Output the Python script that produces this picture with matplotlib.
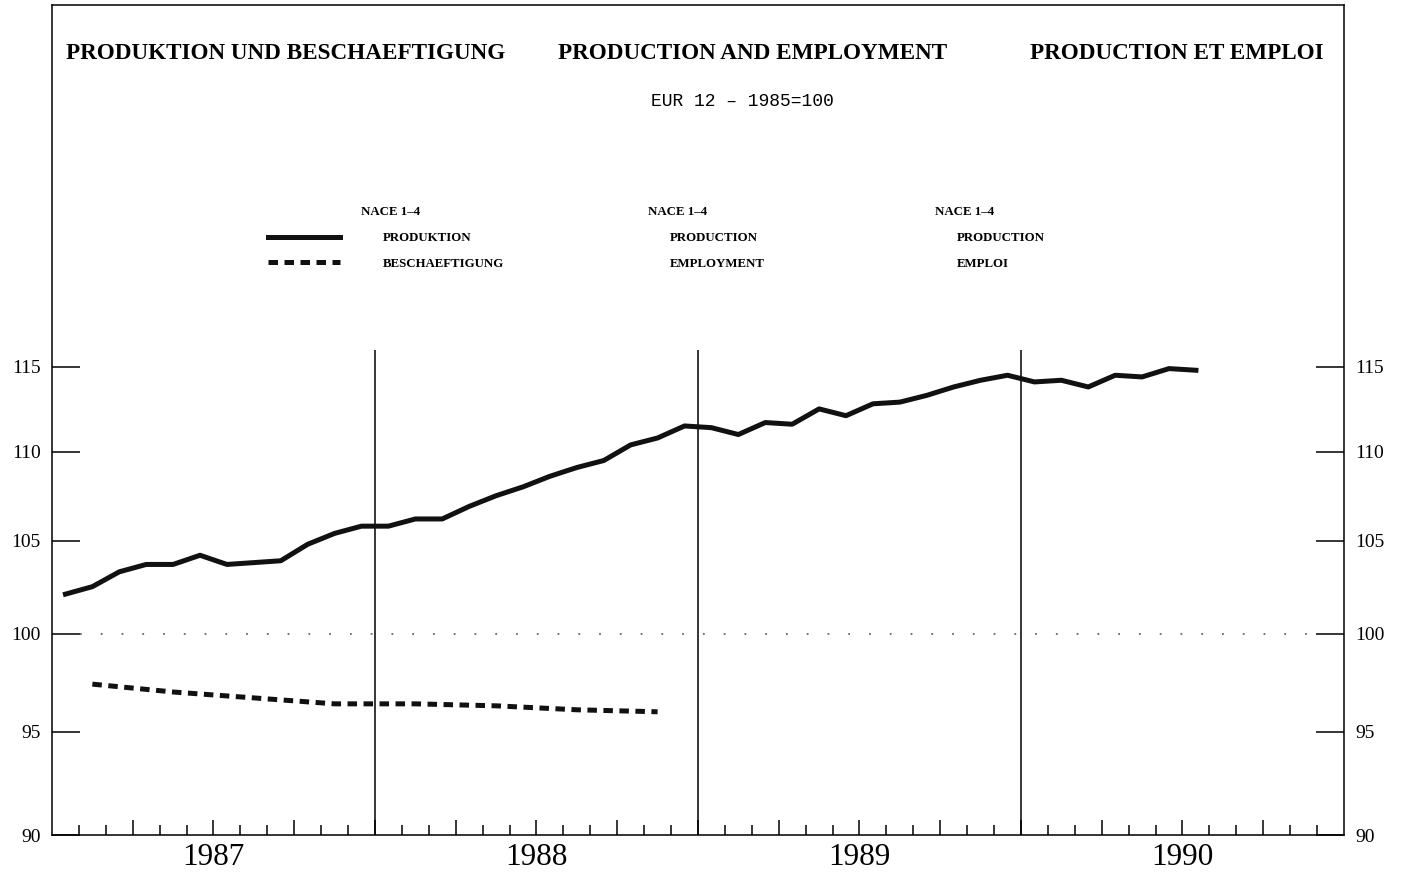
import matplotlib
matplotlib.use('Agg')
import matplotlib.pyplot as plt
from matplotlib.ticker import FixedLocator, NullLocator
import numpy as np

plt.rcParams['font.family'] = ['Liberation Serif', 'DejaVu Serif']

# EUR 12, index 1985=100
years = [1987, 1988, 1989, 1990]

# monthly, Jan 1987 - Jul 1990
production = [102.1, 102.5, 103.3, 103.7, 103.7, 104.2, 103.7, 103.8, 103.9, 104.8, 105.4, 105.8,
              105.8, 106.2, 106.2, 106.9, 107.5, 108.0, 108.6, 109.1, 109.5, 110.4, 110.8, 111.5,
              111.4, 111.0, 111.7, 111.6, 112.5, 112.1, 112.8, 112.9, 113.3, 113.8, 114.2, 114.5,
              114.1, 114.2, 113.8, 114.5, 114.4, 114.9, 114.8]

# quarterly, 1987Q1 - 1988Q4
employment = [97.4, 97.0, 96.7, 96.4, 96.4, 96.3, 96.1, 96.0]

yticks = [90, 95, 100, 105, 110, 115]

month_x = np.arange(len(production)) + 0.5
quarter_x = np.arange(len(employment)) * 3 + 1.5

fig = plt.figure(figsize=(14.01, 8.73), dpi=100)
ax = fig.add_axes([0.0371, 0.0435, 0.9222, 0.9508])
ax.set_yscale('log')
ax.set_ylim(90, 139)
ax.set_xlim(0, 12 * len(years))

for s in ax.spines.values():
    s.set_linewidth(1.1)

# reference line and year separators
ax.axhline(100, xmin=0.022, xmax=0.98, color='0.4', lw=1.3, ls=(0, (1, 10.5)))
ax.vlines([12, 24, 36], 90, 116, color='k', lw=1.1)

l1, = ax.plot(month_x, production, color='#111111', lw=3.6,
              solid_joinstyle='round', label='PRODUKTION')
l2, = ax.plot(quarter_x, employment, color='#111111', lw=3.6,
              dashes=(1.9, 1.3), label='BESCHAEFTIGUNG')

# y axis: log scale, labels on both sides
ax.set_yticks(yticks)
ax.set_yticklabels([str(v) for v in yticks])
ax.yaxis.set_minor_locator(NullLocator())
ax.tick_params(axis='y', which='major', direction='in', length=20, width=1.1,
               left=True, right=True, labelleft=True, labelright=True,
               labelsize=14, pad=8)

# x axis: monthly ticks, longer ones each quarter
ax.xaxis.set_major_locator(FixedLocator(range(3, 48, 3)))
ax.xaxis.set_minor_locator(FixedLocator([m for m in range(1, 48) if m % 3]))
ax.tick_params(axis='x', which='major', direction='in', length=10.8, width=1.1,
               labelbottom=False)
ax.tick_params(axis='x', which='minor', direction='in', length=7.2, width=1.1)
for k, yr in enumerate(years):
    ax.text(6 + 12 * k, -0.027, str(yr), transform=ax.get_xaxis_transform(),
            ha='center', va='center', fontsize=22.5)

# headings
ax.text(0.1811, 0.942, 'PRODUKTION UND BESCHAEFTIGUNG', transform=ax.transAxes,
        ha='center', va='center', fontsize=16.7, fontweight='bold')
ax.text(0.5422, 0.942, 'PRODUCTION AND EMPLOYMENT', transform=ax.transAxes,
        ha='center', va='center', fontsize=16.7, fontweight='bold')
ax.text(0.8704, 0.942, 'PRODUCTION ET EMPLOI', transform=ax.transAxes,
        ha='center', va='center', fontsize=16.7, fontweight='bold')
ax.text(0.5341, 0.884, 'EUR 12 \u2013 1985=100', transform=ax.transAxes,
        ha='center', va='center', fontsize=13, family='Liberation Mono')

# legend in three languages
fs = 9.3
ax.legend(handles=[l1, l2], loc='center left', bbox_to_anchor=(0.1672, 0.7036),
          frameon=False, prop={'weight': 'bold', 'size': fs},
          handlelength=5.58, handletextpad=3.33, labelspacing=1.05,
          borderpad=0, borderaxespad=0)
cols = [(0.2392, ['NACE 1\u20134', None, None]),
        (0.4613, ['NACE 1\u20134', 'PRODUCTION', 'EMPLOYMENT']),
        (0.6834, ['NACE 1\u20134', 'PRODUCTION', 'EMPLOI'])]
rows_y = [0.7506, 0.7193, 0.688]
for x0, labels in cols:
    for j, (lab, y0) in enumerate(zip(labels, rows_y)):
        if lab is None:
            continue
        ax.text(x0 + (0.017 if j else 0), y0, lab, transform=ax.transAxes,
                ha='left', va='center', fontsize=fs, fontweight='bold')

fig.savefig('out.png', dpi=100)
